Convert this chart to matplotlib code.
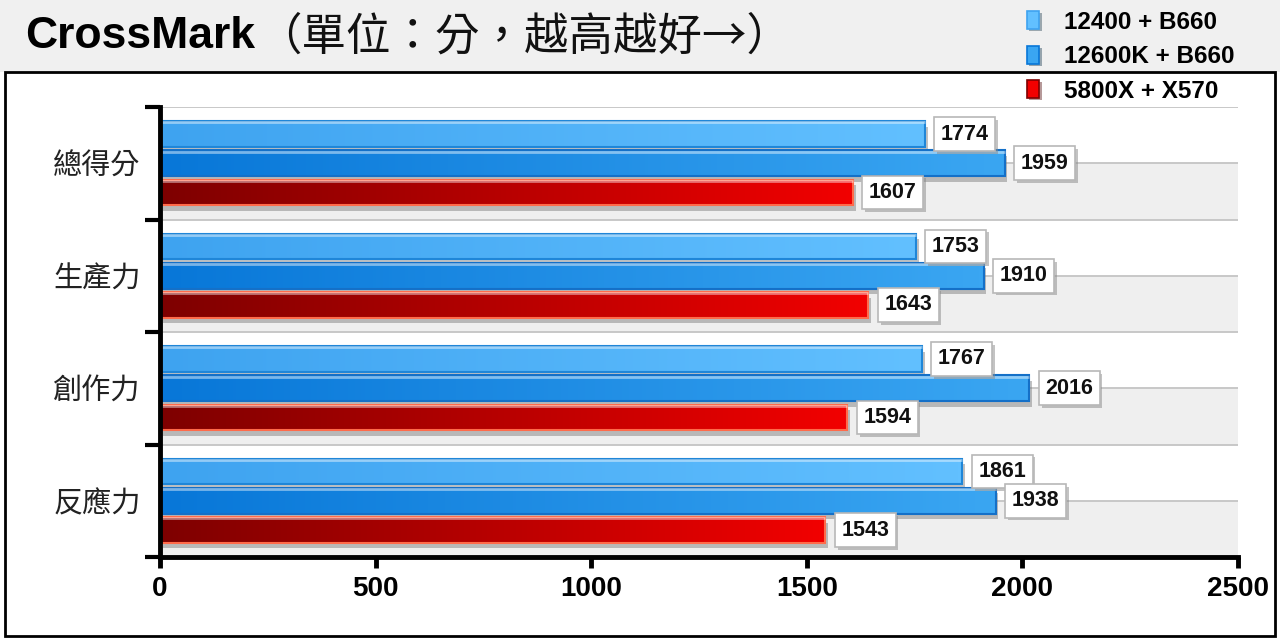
import numpy as np
import matplotlib
matplotlib.use("Agg")
import matplotlib.pyplot as plt
from matplotlib.patches import Rectangle, Patch
from matplotlib.colors import LinearSegmentedColormap
import matplotlib.patheffects as pe

# data
categories = ["總得分", "生產力", "創作力", "反應力"]
series_names = ["12400 + B660", "12600K + B660", "5800X + X570"]
scores_12400 = [1774, 1753, 1767, 1861]
scores_12600k = [1959, 1910, 2016, 1938]
scores_5800x = [1607, 1643, 1594, 1543]
x_ticks = [0, 500, 1000, 1500, 2000, 2500]

series = [scores_12400, scores_12600k, scores_5800x]
# gradient left -> right, edge colour
grads = [("#3ea3f0", "#62c0ff", "#1f86d8"),
         ("#0877d8", "#3aa6f2", "#1470c8"),
         ("#7e0000", "#f20000", "#ff6a4a")]
offsets = [-0.26, 0.0, 0.26]
bar_h = 0.23

CJK = ["Noto Sans CJK TC", "DejaVu Sans"]
LAT = ["Liberation Sans", "DejaVu Sans"]

W, H = 1280, 640
fig = plt.figure(figsize=(W / 100, H / 100), dpi=100)
fig.patch.set_facecolor("white")

# header strip and outer frame
fig.patches.append(Rectangle((0, (H - 72) / H), 1, 72 / H, transform=fig.transFigure,
                             facecolor="#f0f0f0", edgecolor="none", zorder=0))
fig.patches.append(Rectangle((5 / W, 4 / H), 1270 / W, (H - 72 - 4) / H, transform=fig.transFigure,
                             facecolor="none", edgecolor="black", lw=2, zorder=1))

ax = fig.add_axes([160 / W, (H - 557) / H, (1238 - 160) / W, (557 - 107) / H])
ax.set_facecolor("none")

# alternating bands and grid lines
for i in range(len(categories)):
    ax.axhspan(i, i + 0.5, color="#efefef", zorder=0, lw=0)
for g in np.arange(-0.5, len(categories), 0.5):
    ax.axhline(g, color="#c4c4c4", lw=1.3, zorder=0.5)

for s, vals in enumerate(series):
    c0, c1, ec = grads[s]
    cmap = LinearSegmentedColormap.from_list("g%d" % s, [c0, c1])
    grad = np.linspace(0, 1, 256).reshape(1, -1)
    ys = np.arange(len(categories)) + offsets[s]
    bars = ax.barh(ys, vals, height=bar_h, color=c0, edgecolor="none", zorder=2)
    for b in bars:
        b.set_path_effects([pe.SimplePatchShadow(offset=(2, -4), shadow_rgbFace="#777777", alpha=0.45),
                            pe.Normal()])
    for y, v, b in zip(ys, vals, bars):
        im = ax.imshow(grad, cmap=cmap, aspect="auto", extent=[0, v, y + bar_h / 2, y - bar_h / 2],
                       zorder=3, interpolation="bicubic")
        im.set_clip_path(b)
        # edge and top highlight
        ax.add_patch(Rectangle((0, y - bar_h / 2), v, bar_h, facecolor="none", edgecolor=ec,
                               lw=1.5, zorder=4))
        ax.plot([0, v], [y - bar_h / 2 + 0.012] * 2, color="white", alpha=0.45, lw=2, zorder=4,
                solid_capstyle="butt")
        t = ax.annotate(str(v), xy=(v, y), xytext=(16, 0), textcoords="offset pixels",
                        ha="left", va="center", fontsize=15.5, fontweight="bold", family=LAT,
                        color="#111111", zorder=6,
                        bbox=dict(boxstyle="square,pad=0.3", fc="white", ec="#b8b8b8", lw=1.2))
        t.get_bbox_patch().set_path_effects([pe.SimplePatchShadow(offset=(2, -2), shadow_rgbFace="#888888",
                                                                  alpha=0.5), pe.Normal()])

# keep limits fixed after imshow
ax.set_xlim(0, 2500)
ax.set_ylim(len(categories) - 0.5, -0.5)

for sp in ["top", "right"]:
    ax.spines[sp].set_visible(False)
for sp in ["left", "bottom"]:
    ax.spines[sp].set_linewidth(3.5)
    ax.spines[sp].set_color("black")
    ax.spines[sp].set_zorder(5)

ax.set_xticks(x_ticks)
ax.set_xticklabels([str(x) for x in x_ticks], fontsize=20, fontweight="bold", family=LAT)
ax.tick_params(axis="x", direction="out", length=8, width=3.5, pad=6)

ax.set_yticks(np.arange(-0.5, len(categories), 1.0))
ax.set_yticklabels([])
ax.tick_params(axis="y", which="major", direction="out", length=11, width=3)
ax.set_yticks(np.arange(len(categories)), minor=True)
ax.set_yticklabels(categories, minor=True, fontsize=21, family=CJK, color="#222222")
ax.tick_params(axis="y", which="minor", length=0, pad=14)

# title
t1 = fig.text(25 / W, 1 - 37 / H, "CrossMark", fontsize=32, fontweight="bold", family=LAT,
              ha="left", va="center")
fig.canvas.draw()
bb = t1.get_window_extent()
fig.text(bb.x1 / W + 2 / W, 1 - 37 / H, "（單位：分，越高越好→）", fontsize=32, family=CJK,
         ha="left", va="center", color="#111111", fontweight="light")

# legend
handles = [Patch(facecolor=grads[i][1], edgecolor=grads[i][0], lw=1.2) for i in range(3)]
leg = fig.legend(handles, series_names, loc="upper right", bbox_to_anchor=(1244 / W, 1 - 1 / H),
                 frameon=False, prop={"family": LAT, "size": 17.5, "weight": "bold"},
                 handlelength=0.5, handleheight=0.75, handletextpad=1.0, labelspacing=0.47,
                 borderaxespad=0)
for h in leg.legend_handles:
    h.set_path_effects([pe.SimplePatchShadow(offset=(1.5, -1.5), alpha=0.4), pe.Normal()])

fig.savefig("out.png", dpi=100)
